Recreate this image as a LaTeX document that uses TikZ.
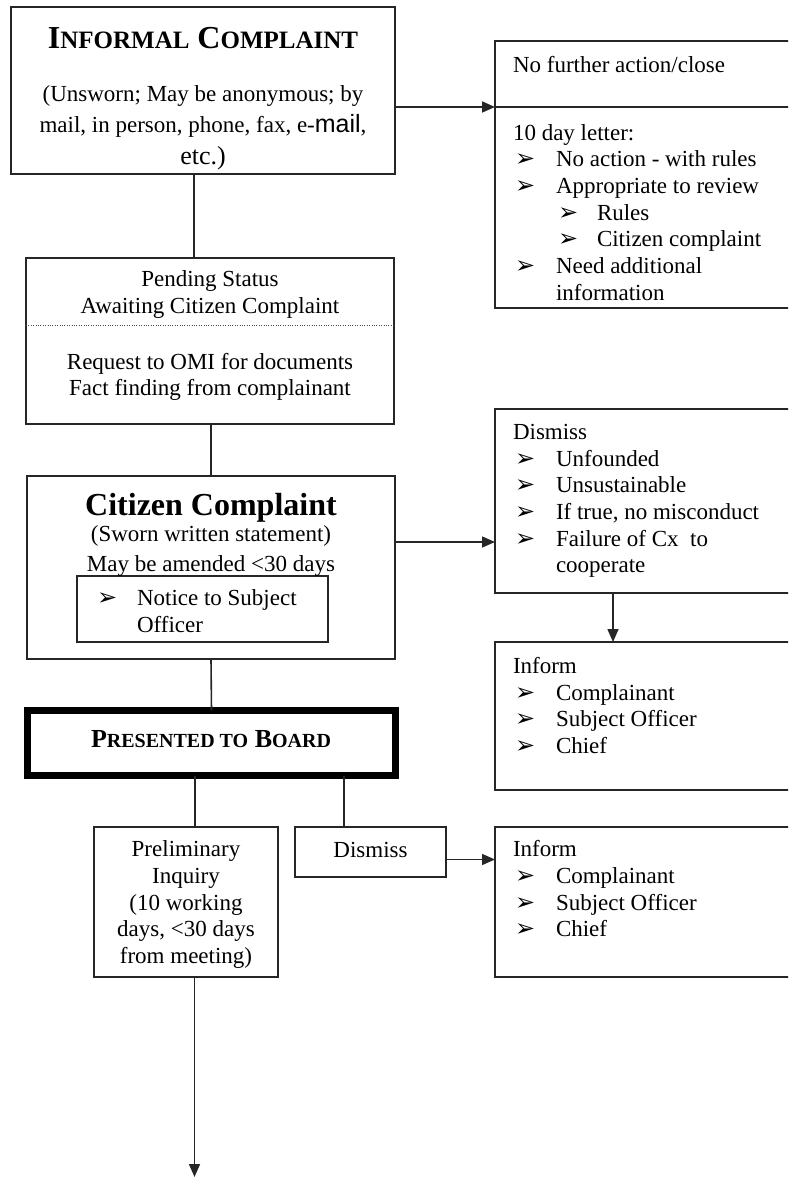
\documentclass[tikz,border=0pt]{standalone}
\usepackage{fontspec}
\setmainfont{Liberation Serif}
\newfontfamily\dejavu{DejaVu Sans}
\newfontfamily\arialf{Liberation Sans}
\usetikzlibrary{arrows.meta}
\newcommand\bulw[1]{\makebox[#1][l]{\dejavu\fontsize{24}{24}\selectfont ➢}}
\newcommand\lineL[3]{\node[txt,anchor=base west] (#1) at (#2) {#3};}
\newcommand\lineC[3]{\node[txt,anchor=base] (#1) at (#2) {#3};}
\begin{document}
\begin{tikzpicture}[x=1pt,y=-1pt,
  box/.style={draw=black!85, line width=1.6pt, inner sep=0pt, outer sep=0pt, anchor=north west},
  txt/.style={inner sep=0pt, outer sep=0pt, font=\fontsize{23}{26.8}\selectfont},
  arr/.style={draw=black!85, line width=1.6pt, -{Triangle[length=13pt,width=11pt]}},
  con/.style={draw=black!85, line width=1.6pt},
  dots/.style={draw=black!70, line width=1pt, dash pattern=on 1pt off 1.4pt}]
\useasboundingbox (0,0) rectangle (788,1178);
\clip (0,0) rectangle (788,1178);
% boxes
\node[box, minimum width=384.3pt, minimum height=167pt] (inf) at (10.7,7) {};
\node[box, minimum width=305pt, minimum height=267pt] (r1) at (495,41) {};
\node[box, minimum width=368pt, minimum height=166pt] (pend) at (26,258) {};
\node[box, minimum width=368pt, minimum height=183pt] (cit) at (27,476) {};
\node[box, minimum width=251pt, minimum height=66pt] (nb) at (77,576) {};
\node[box, minimum width=305pt, minimum height=184pt] (dis) at (495,409) {};
\node[box, minimum width=305pt, minimum height=148pt] (inf1) at (495,642) {};
\node[box, draw=black, line width=7pt, minimum width=368pt, minimum height=65pt] (board) at (27.5,710.5) {};
\node[box, minimum width=184pt, minimum height=150pt] (prel) at (94,827) {};
\node[box, minimum width=151pt, minimum height=50pt] (dsm) at (295,827) {};
\node[box, minimum width=305pt, minimum height=150pt] (inf2) at (495,827) {};
\coordinate (endp) at (194.5,1177);
% dividers
\draw[con] ([yshift=-66pt]r1.north west) -- ([yshift=-66pt]r1.north east);
\draw[dots] ([yshift=-67pt]pend.north west) -- ([yshift=-67pt]pend.north east);
% connectors
\draw[arr] ([yshift=-100pt]inf.north east) -- ([yshift=-66pt]r1.north west);
\draw[con] ([xshift=-8.85pt]inf.south) -- ([xshift=-16pt]pend.north);
\draw[con] ([xshift=1pt]pend.south) -- (cit.north);
\draw[con] (cit.south) -- (board.north);
\draw[arr] ([yshift=-66pt]cit.north east) -- ([yshift=-133pt]dis.north west);
\draw[arr] ([xshift=118pt]dis.south west) -- ([xshift=118pt]inf1.north west);
\draw[con] ([xshift=-16.5pt]board.south) -- ([xshift=9pt]prel.north);
\draw[con] ([xshift=132.5pt]board.south) -- ([xshift=-26.5pt]dsm.north);
\draw[arr] ([yshift=-7.5pt]dsm.east) -- ([yshift=-32.5pt]inf2.north west);
\draw[arr] ([xshift=8.5pt]prel.south) -- (endp);
% informal complaint texts
\lineC{tinf}{203,48}{\bfseries\fontsize{32}{32}\selectfont I{\fontsize{25}{25}\selectfont NFORMAL} C{\fontsize{25}{25}\selectfont OMPLAINT}}
\lineC{inf1l}{203,101}{(Unsworn; May be anonymous; by}
\lineC{inf2l}{203,132.7}{mail, in person, phone, fax, e-{\arialf\fontsize{25}{25}\selectfont mail},}
\lineC{inf3l}{203,164}{{\fontsize{26}{26}\selectfont etc.)}}
% right box 1
\lineL{r1a}{513,72}{No further action/close}
\lineL{r1b}{513,140}{10 day letter:}
\lineL{r1c}{515,166.7}{\bulw{41pt}No action - with rules}
\lineL{r1d}{515,193.4}{\bulw{41pt}Appropriate to review}
\lineL{r1e}{558,220.1}{\bulw{39pt}Rules}
\lineL{r1f}{558,246.8}{\bulw{39pt}Citizen complaint}
\lineL{r1g}{515,273.5}{\bulw{41pt}Need additional}
\lineL{r1h}{556,300.2}{information}
% pending
\lineC{p1}{210,286.7}{Pending Status}
\lineC{p2}{210,313}{Awaiting Citizen Complaint}
\lineC{p3}{210,369}{Request to OMI for documents}
\lineC{p4}{210,395.7}{Fact finding from complainant}
% citizen complaint
\lineC{c1}{211,515}{\bfseries\fontsize{32}{32}\selectfont Citizen Complaint}
\lineC{c2}{211,541.7}{(Sworn written statement)}
\lineC{c3}{211,571.7}{May be amended <30 days}
\lineL{n1}{97,605.7}{\bulw{40pt}Notice to Subject}
\lineL{n2}{137,632.3}{Officer}
% dismiss right
\lineL{d0}{513,439.3}{Dismiss}
\lineL{d1}{515,466}{\bulw{41pt}Unfounded}
\lineL{d2}{515,492.7}{\bulw{41pt}Unsustainable}
\lineL{d3}{515,519.3}{\bulw{41pt}If true, no misconduct}
\lineL{d4}{515,546}{\bulw{41pt}Failure of Cx\ \ to}
\lineL{d5}{556,572.7}{cooperate}
% inform 1
\lineL{i0}{513,673.3}{Inform}
\lineL{i1}{515,700}{\bulw{41pt}Complainant}
\lineL{i2}{515,726.7}{\bulw{41pt}Subject Officer}
\lineL{i3}{515,753.3}{\bulw{41pt}Chief}
% board
\lineC{b1}{211,747.3}{\bfseries\fontsize{26}{26}\selectfont P{\fontsize{20}{20}\selectfont RESENTED TO} B{\fontsize{20}{20}\selectfont OARD}}
% preliminary
\lineC{q1}{186,856.7}{Preliminary}
\lineC{q2}{186,883.3}{Inquiry}
\lineC{q3}{186,910}{(10 working}
\lineC{q4}{186,936.7}{days, <30 days}
\lineC{q5}{186,963.3}{from meeting)}
% dismiss small
\lineC{ds}{370.5,857.3}{Dismiss}
% inform 2
\lineL{j0}{513,856.7}{Inform}
\lineL{j1}{515,883.3}{\bulw{41pt}Complainant}
\lineL{j2}{515,910}{\bulw{41pt}Subject Officer}
\lineL{j3}{515,936.7}{\bulw{41pt}Chief}
\end{tikzpicture}
\end{document}
